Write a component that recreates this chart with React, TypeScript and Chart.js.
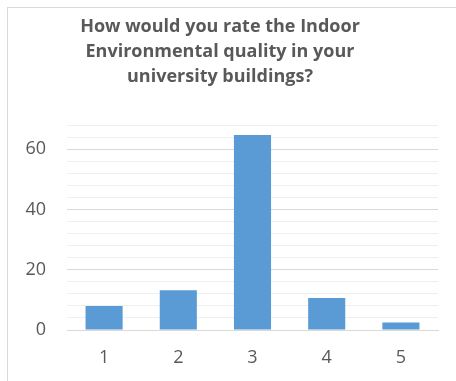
import React, { useEffect, useRef } from "react";
import { Chart, registerables } from "chart.js";

Chart.register(...registerables);

// Survey answer scale (1 = worst, 5 = best) and share of responses
const ratings = ["1", "2", "3", "4", "5"];
const responses = [8, 13.2, 64.7, 10.6, 2.5];

// Chart heading, one entry per line
const titleLines = [
  "How would you rate the Indoor",
  "Environmental quality in your",
  "university buildings?",
];

// Value axis: range, grid step and the values that carry a label
const yMax = 68;
const yStep = 4;
const labelledTicks = [0, 20, 40, 60];

const TEXT = "#595959";
const BAR = "#5b9bd5";
const FONT = "'Open Sans', 'Liberation Sans', sans-serif";

// Draws the three-line heading, centred a little left of the canvas middle
const headingPlugin = {
  id: "heading",
  afterDraw(chart: Chart) {
    const ctx = chart.ctx;
    ctx.save();
    ctx.fillStyle = TEXT;
    ctx.font = `bold 18px ${FONT}`;
    ctx.textAlign = "center";
    ctx.textBaseline = "alphabetic";
    titleLines.forEach((line, i) => {
      ctx.fillText(line, 212, 24 + i * 25);
    });
    ctx.restore();
  },
};

export default function App() {
  const canvasRef = useRef<HTMLCanvasElement | null>(null);

  useEffect(() => {
    if (!canvasRef.current) return;
    const chart = new Chart(canvasRef.current, {
      type: "bar",
      data: {
        labels: ratings,
        datasets: [
          {
            data: responses,
            backgroundColor: BAR,
            borderWidth: 0,
            categoryPercentage: 1,
            barPercentage: 0.5,
          },
        ],
      },
      options: {
        animation: false,
        responsive: false,
        layout: { padding: { top: 117, right: 18, left: 0, bottom: 0 } },
        plugins: {
          legend: { display: false },
          title: { display: false },
          tooltip: { enabled: false },
        },
        scales: {
          x: {
            grid: { display: false, drawTicks: false },
            border: { display: true, color: "#d9d9d9", width: 1 },
            ticks: {
              color: TEXT,
              font: { family: FONT, size: 18 },
              padding: 17,
            },
            afterFit(scale: any) {
              scale.height = 51;
            },
          },
          y: {
            min: 0,
            max: yMax,
            border: { display: false },
            grid: {
              drawTicks: false,
              color: (c: any) =>
                labelledTicks.includes(c.tick?.value) ? "#d9d9d9" : "#efefef",
              lineWidth: 1,
            },
            ticks: {
              stepSize: yStep,
              autoSkip: false,
              color: TEXT,
              font: { family: FONT, size: 18 },
              padding: 21,
              callback: (v: any) =>
                labelledTicks.includes(Number(v)) ? String(v) : "",
            },
            afterFit(scale: any) {
              scale.width = 59;
            },
          },
        },
      },
      plugins: [headingPlugin],
    });
    return () => chart.destroy();
  }, []);

  return (
    <div
      style={{
        position: "absolute",
        left: 7,
        top: 7,
        width: 449,
        height: 374,
        borderTop: "1px solid #d9d9d9",
        borderLeft: "1px solid #d9d9d9",
        background: "#fff",
      }}
    >
      <canvas
        ref={canvasRef}
        width={448}
        height={373}
        style={{ display: "block", width: 448, height: 373 }}
      />
    </div>
  );
}
